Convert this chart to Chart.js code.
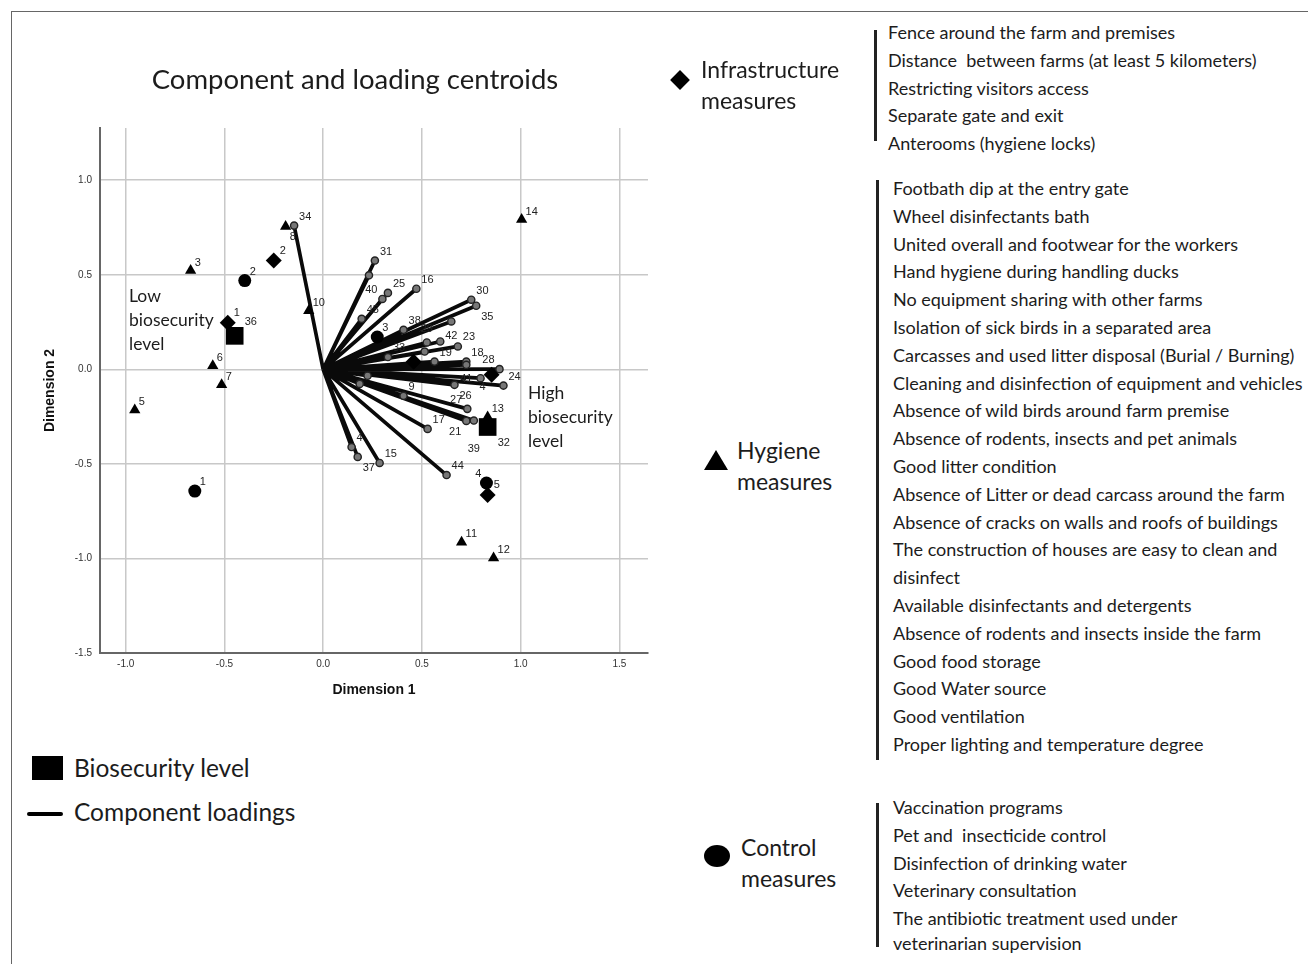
<!DOCTYPE html>
<html><head><meta charset="utf-8">
<script src="https://cdn.jsdelivr.net/npm/chart.js@4.4.1/dist/chart.umd.min.js"></script>
<style>
html,body{margin:0;padding:0;background:#fff;}
body{width:1308px;height:964px;position:relative;overflow:hidden;font-family:Lato,"Open Sans",sans-serif;color:#1c1c1c;}
#frame{position:absolute;left:11px;top:11px;width:1400px;height:1000px;border-left:1.5px solid #666;border-top:1.5px solid #666;}
#wrap{position:absolute;left:0;top:0;width:680px;height:720px;}
.t{position:absolute;white-space:pre;}
.bar{position:absolute;width:2.5px;background:#222;}
.list{position:absolute;white-space:normal;}
.list div{height:27.8px;line-height:27.8px;font-size:18px;white-space:pre;}
</style></head>
<body>
<div id="frame"></div>
<div id="wrap"><canvas id="c" width="680" height="720"></canvas></div>

<div class="t" style="left:0;width:710px;text-align:center;top:61px;font-size:27.5px;line-height:36px;">Component and loading centroids</div>

<div class="t" style="left:129px;top:284px;font-size:17.5px;line-height:24px;">Low
biosecurity
level</div>
<div class="t" style="left:528px;top:381px;font-size:17.5px;line-height:24px;">High
biosecurity
level</div>

<div style="position:absolute;left:32px;top:756px;width:31px;height:24px;background:#000;"></div>
<div class="t" style="left:74px;top:753px;font-size:24.5px;line-height:30px;">Biosecurity level</div>
<div style="position:absolute;left:27px;top:812px;width:36px;height:4px;background:#000;border-radius:2px;"></div>
<div class="t" style="left:74px;top:797px;font-size:24.5px;line-height:30px;">Component loadings</div>

<!-- Infrastructure -->
<div style="position:absolute;left:673px;top:73px;width:14px;height:14px;background:#000;transform:rotate(45deg);"></div>
<div class="t" style="left:701px;top:54px;font-size:23px;line-height:31px;">Infrastructure
measures</div>
<div class="bar" style="left:874px;top:30px;height:111px;"></div>
<div class="list" style="left:888px;top:19px;"><div>Fence around the farm and premises</div><div>Distance  between farms (at least 5 kilometers)</div><div>Restricting visitors access</div><div>Separate gate and exit</div><div>Anterooms (hygiene locks)</div></div>

<!-- Hygiene -->
<div style="position:absolute;left:704px;top:450px;width:0;height:0;border-left:12px solid transparent;border-right:12px solid transparent;border-bottom:20px solid #000;"></div>
<div class="t" style="left:737px;top:435px;font-size:23px;line-height:31px;">Hygiene
measures</div>
<div class="bar" style="left:876px;top:180px;height:580px;"></div>
<div class="list" style="left:893px;top:175px;"><div>Footbath dip at the entry gate</div><div>Wheel disinfectants bath</div><div>United overall and footwear for the workers</div><div>Hand hygiene during handling ducks</div><div>No equipment sharing with other farms</div><div>Isolation of sick birds in a separated area</div><div>Carcasses and used litter disposal (Burial / Burning)</div><div>Cleaning and disinfection of equipment and vehicles</div><div>Absence of wild birds around farm premise</div><div>Absence of rodents, insects and pet animals</div><div>Good litter condition</div><div>Absence of Litter or dead carcass around the farm</div><div>Absence of cracks on walls and roofs of buildings</div><div>The construction of houses are easy to clean and</div><div>disinfect</div><div>Available disinfectants and detergents</div><div>Absence of rodents and insects inside the farm</div><div>Good food storage</div><div>Good Water source</div><div>Good ventilation</div><div>Proper lighting and temperature degree</div></div>

<!-- Control -->
<div style="position:absolute;left:704px;top:845px;width:26px;height:22px;border-radius:50%;background:#000;"></div>
<div class="t" style="left:741px;top:832px;font-size:23px;line-height:31px;">Control
measures</div>
<div class="bar" style="left:876px;top:803px;height:144px;"></div>
<div class="list" style="left:893px;top:794px;"><div>Vaccination programs</div><div>Pet and  insecticide control</div><div>Disinfection of drinking water</div><div>Veterinary consultation</div><div>The antibiotic treatment used under</div><div style="height:24px;line-height:20px;">veterinarian supervision</div></div>

<script>
// ---- data ----
const xTicks = [-1.0, -0.5, 0.0, 0.5, 1.0, 1.5];
const yTicks = [1.0, 0.5, 0.0, -0.5, -1.0, -1.5];

// component loadings (vectors from origin)
const loadLabels = ['34','31','','25','40','16','45','30','35','42','38','29','23','','33','19','','18','28','24','41','','26','9','','','27','21','39','17','44','15','37','4'];
const loadX = [-0.147,0.262,0.232,0.328,0.300,0.472,0.195,0.750,0.775,0.649,0.407,0.525,0.682,0.593,0.328,0.564,0.514,0.725,0.893,0.913,0.725,0.797,0.665,0.407,0.185,0.225,0.730,0.725,0.763,0.529,0.625,0.286,0.175,0.144];
const loadY = [0.760,0.575,0.497,0.404,0.372,0.426,0.267,0.368,0.336,0.253,0.209,0.142,0.121,0.147,0.065,0.041,0.094,0.041,0.001,-0.086,0.024,-0.047,-0.082,-0.140,-0.077,-0.034,-0.209,-0.273,-0.271,-0.315,-0.559,-0.495,-0.463,-0.411];
const loadSide = ['ur','ur','','ur','ul','ur','ur','ur','lr','d','ur','u','ur','','ur','ur','','ur','ul','ur','d','','lr','ur','','','ul','ll','dd','ur','ur','ur','lr','ur'];

// infrastructure measures (diamonds)
const infraLabels = ['1','2','','4','5'];
const infraX = [-0.483,-0.250,0.458,0.853,0.833];
const infraY = [0.246,0.575,0.040,-0.029,-0.665];
const infraSide = ['ur','ur','ur','ll','ur'];

// hygiene measures (triangles)
const hygLabels = ['3','5','6','7','8','10','11','12','13','14'];
const hygX = [-0.671,-0.954,-0.559,-0.514,-0.190,-0.073,0.701,0.863,0.833,1.005];
const hygY = [0.522,-0.215,0.019,-0.082,0.755,0.310,-0.914,-0.998,-0.252,0.792];
const hygSide = ['ur','ur','ur','ur','lr','ur','ur','ur','ur','ur'];

// control measures (circles)
const ctrlLabels = ['1','2','3','4'];
const ctrlX = [-0.650,-0.397,0.274,0.827];
const ctrlY = [-0.644,0.469,0.171,-0.601];
const ctrlSide = ['ur','ur','ur','ul'];

// biosecurity level centroids (squares)
const levelLabels = ['36','32'];
const levelX = [-0.448,0.833];
const levelY = [0.177,-0.305];
const levelSide = ['ur','lr'];

// ---- build ----
const pts = (xs, ys) => xs.map((x, i) => ({x: x, y: ys[i]}));
const loadData = [];
loadX.forEach((x, i) => { loadData.push({x: 0, y: 0}, {x: x, y: loadY[i]}, {x: null, y: null}); });

const OFF = {ur:[4,-8,'left'], ul:[-4,-8,'right'], lr:[4,10,'left'], ll:[-4,10,'right'], u:[0,-12,'center'], d:[0,13,'center'], dd:[0,27,'center']};

const labelPlugin = {
  id: 'ptlabels',
  afterDatasetsDraw(chart) {
    const ctx = chart.ctx;
    ctx.save();
    ctx.font = '11px "Liberation Sans", Arial, sans-serif';
    ctx.fillStyle = '#222';
    ctx.textBaseline = 'middle';
    chart.data.datasets.forEach((ds, di) => {
      if (!ds.ptLabels) return;
      const meta = chart.getDatasetMeta(di);
      const step = ds.ptStep || 1, first = ds.ptFirst || 0;
      const pad = ds.ptPad || 0;
      ds.ptLabels.forEach((lab, i) => {
        if (!lab) return;
        const el = meta.data[first + i * step];
        if (!el) return;
        const o = OFF[ds.ptSide[i]] || OFF.ur;
        const sx = o[0] === 0 ? 0 : Math.sign(o[0]) * pad;
        const sy = Math.sign(o[1]) * pad;
        ctx.textAlign = o[2];
        ctx.fillText(lab, el.x + o[0] + sx, el.y + o[1] + sy);
      });
    });
    ctx.restore();
  }
};

const tickFont = {family: '"Liberation Sans", Arial, sans-serif', size: 10};
const titleFont = {family: '"Liberation Sans", Arial, sans-serif', size: 14, weight: 'bold'};

new Chart(document.getElementById('c'), {
  type: 'scatter',
  data: {
    datasets: [
      {label: 'Biosecurity level', data: pts(levelX, levelY), pointStyle: 'rect', pointRadius: 12.5, backgroundColor: '#000', borderColor: '#000', borderWidth: 0, order: 1,
       ptLabels: levelLabels, ptSide: levelSide, ptPad: 6},
      {label: 'Infrastructure', data: pts(infraX, infraY), pointStyle: 'rectRot', pointRadius: 8, backgroundColor: '#000', borderColor: '#000', borderWidth: 0, order: 2,
       ptLabels: infraLabels, ptSide: infraSide, ptPad: 2},
      {label: 'Hygiene', data: pts(hygX, hygY), pointStyle: 'triangle', pointRadius: 6.5, backgroundColor: '#000', borderColor: '#000', borderWidth: 0, order: 3,
       ptLabels: hygLabels, ptSide: hygSide},
      {label: 'Control', data: pts(ctrlX, ctrlY), pointStyle: 'circle', pointRadius: 6.5, backgroundColor: '#000', borderColor: '#000', borderWidth: 0, order: 4,
       ptLabels: ctrlLabels, ptSide: ctrlSide, ptPad: 1},
      {label: 'Component loadings', data: loadData, showLine: true, spanGaps: false, borderColor: '#0a0a0a', borderWidth: 3.7,
       pointRadius: c => (c.dataIndex % 3 === 1 ? 3.6 : 0), pointBackgroundColor: '#777', pointBorderColor: '#222', pointBorderWidth: 1.4, order: 10,
       ptLabels: loadLabels, ptSide: loadSide, ptStep: 3, ptFirst: 1, ptPad: 1}
    ]
  },
  options: {
    responsive: false,
    animation: false,
    devicePixelRatio: 1,
    layout: {padding: {left: 38, top: 128, right: 32, bottom: 17}},
    plugins: {legend: {display: false}, tooltip: {enabled: false}},
    scales: {
      x: {
        type: 'linear', min: -1.13, max: 1.645,
        afterBuildTicks: s => { s.ticks = xTicks.map(v => ({value: v})); },
        afterFit: s => { s.height = 50; },
        ticks: {callback: v => Number(v).toFixed(1), font: tickFont, color: '#333', padding: 5, maxRotation: 0, autoSkip: false},
        grid: {color: '#c8c8c8', lineWidth: 1.5, drawTicks: false},
        border: {color: '#666', width: 2},
        title: {display: true, text: 'Dimension 1', font: titleFont, color: '#111'}
      },
      y: {
        type: 'linear', min: -1.5, max: 1.276,
        afterBuildTicks: s => { s.ticks = yTicks.map(v => ({value: v})); },
        afterFit: s => { s.width = 62; },
        ticks: {callback: v => Number(v).toFixed(1), font: tickFont, color: '#333', padding: 8, autoSkip: false},
        grid: {color: '#c8c8c8', lineWidth: 1.5, drawTicks: false},
        border: {color: '#666', width: 2},
        title: {display: true, text: 'Dimension 2', font: titleFont, color: '#111'}
      }
    }
  },
  plugins: [labelPlugin]
});
</script>
</body></html>
